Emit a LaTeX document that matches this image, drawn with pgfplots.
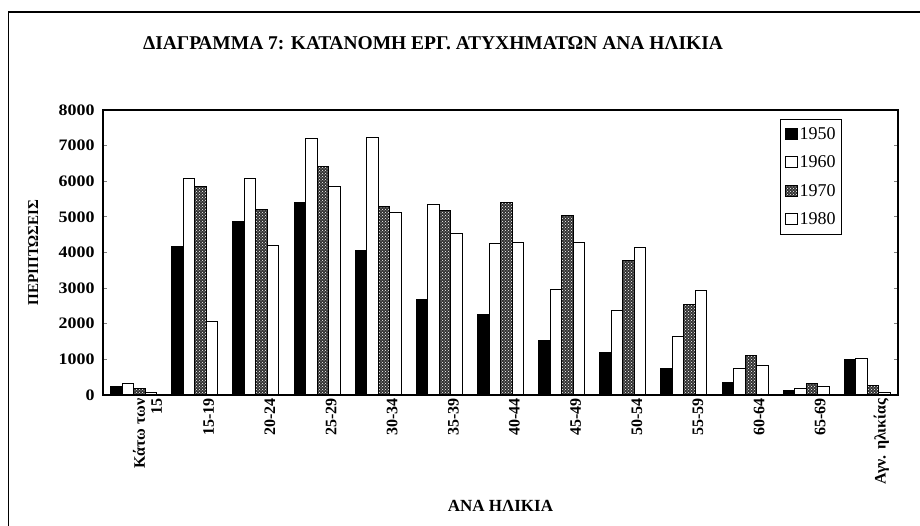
\documentclass[border=0pt]{standalone}
\usepackage{pgfplots}
\pgfplotsset{compat=1.18}
\usepackage{fontspec}
\setmainfont{Liberation Serif}
\usetikzlibrary{patterns}
\pgfplotstableread{
x y1950 y1960 y1970 y1980
0 240 330 190 60
1 4170 6075 5850 2075
2 4860 6075 5220 4200
3 5400 7200 6400 5850
4 4050 7230 5300 5120
5 2690 5350 5180 4520
6 2250 4240 5410 4280
7 1540 2970 5030 4280
8 1180 2360 3780 4130
9 745 1630 2550 2930
10 350 745 1120 830
11 140 190 310 235
12 1010 1030 270 65
}\datatable
\begin{document}
\begin{tikzpicture}[x=1pt,y=1pt]
\useasboundingbox (0,0) rectangle (920,526);
\draw[line width=1.6pt] (8,526-12) -- (920,526-12);
\draw[line width=1pt] (8,526-12) -- (8,0);
\node[font=\bfseries\fontsize{19.5}{22}\selectfont] at (433,526-43) {ΔΙΑΓΡΑΜΜΑ 7: ΚΑΤΑΝΟΜΗ ΕΡΓ. ΑΤΥΧΗΜΑΤΩΝ ΑΝΑ ΗΛΙΚΙΑ};
\begin{axis}[
  at={(103pt,131pt)}, anchor=south west,
  scale only axis, width=795pt, height=285pt,
  xmin=-0.5, xmax=12.5, ymin=0, ymax=8000,
  ybar=0pt, bar width=11.5pt,
  axis line style={line width=1.2pt},
  xtick=data,
  xticklabels={{Κάτω των\\15},15-19,20-24,25-29,30-34,35-39,40-44,45-49,50-54,55-59,60-64,65-69,{Αγν. ηλικίας}},
  x tick label style={rotate=90, anchor=east, align=right, yshift=-14pt, font=\bfseries\fontsize{16}{17}\selectfont},
  xtick style={draw=none},
  ytick={0,1000,...,8000},
  yticklabel style={font=\bfseries\fontsize{16}{16}\selectfont, xscale=1.12, xshift=-4pt},
  /pgf/number format/assume math mode=true,
  /pgf/number format/1000 sep={},
  ytick style={line width=1pt},
  tick align=inside,
  ylabel={ΠΕΡΙΠΤΩΣΕΙΣ},
  ylabel style={font=\bfseries\fontsize{15}{15}\selectfont, anchor=center, at={(axis description cs:-0.088,0.5)}},
  xlabel={ΑΝΑ ΗΛΙΚΙΑ},
  xlabel style={font=\bfseries\fontsize{17}{17}\selectfont, anchor=center, at={(axis description cs:0.5,-0.389)}},
  legend style={at={(0.9296,0.968)}, anchor=north east, draw=black, line width=0.8pt,
    font=\fontsize{18}{18}\selectfont, row sep=11pt, inner xsep=4pt, inner ysep=6pt},
  legend cell align=left,
  legend image code/.code={\draw[#1, line width=0.8pt] (0pt,-5pt) rectangle (12pt,6pt);},
]
\addplot[draw=black, line width=1pt, fill=black] table[x=x,y=y1950] {\datatable};
\addplot[draw=black, line width=1pt, fill=white] table[x=x,y=y1960] {\datatable};
\addplot[draw=black, line width=1pt, fill=black!80, postaction={pattern=crosshatch dots, pattern color=white}] table[x=x,y=y1970] {\datatable};
\addplot[draw=black, line width=1pt, fill=white] table[x=x,y=y1980] {\datatable};
\legend{1950,1960,1970,1980}
\end{axis}
\end{tikzpicture}
\end{document}
